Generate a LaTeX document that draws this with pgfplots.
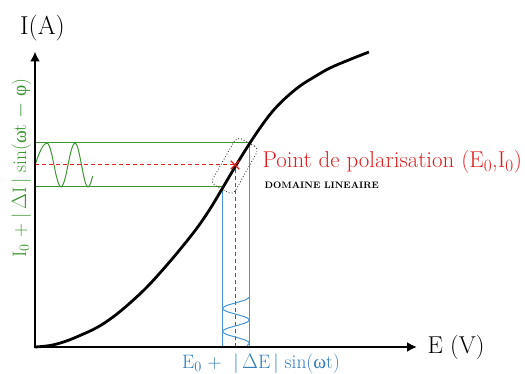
\documentclass[border=0pt]{standalone}
\usepackage{fontspec}
\usepackage{pgfplots}
\pgfplotsset{compat=1.18}
\usetikzlibrary{arrows.meta}
\newfontfamily\grk{Liberation Serif}
\definecolor{cgreen}{RGB}{60,150,50}
\definecolor{cgreentext}{RGB}{60,150,50}
\definecolor{cblue}{RGB}{70,150,210}
\definecolor{cbluetext}{RGB}{50,125,190}
\definecolor{cred}{RGB}{225,30,30}
\begin{document}
\begin{tikzpicture}
\begin{axis}[
  width=525bp, height=374bp, scale only axis,
  xmin=0, xmax=525, ymin=0, ymax=374,
  hide axis, clip=false,
]
% frame (invisible)
\addplot[draw=none] coordinates {(0,0) (525,374)};
% green horizontal lines
\addplot[cgreen, line width=1pt] coordinates {(35,231) (250,231)};
\addplot[cgreen, line width=1pt] coordinates {(35,187) (222,187)};
% blue vertical lines
\addplot[cblue, line width=1pt] coordinates {(222,27) (222,187)};
\addplot[cblue, line width=1pt] coordinates {(249,27) (249,231)};
% red dashed lines
\addplot[cred, dash pattern=on 4pt off 3pt, line width=1pt] coordinates {(35,209) (235,209)};
\addplot[cred, dash pattern=on 4pt off 3pt, line width=1pt] coordinates {(235,27) (235,209)};
% green sine
\addplot[cgreen, line width=1pt, smooth] coordinates {
(35,209) (39,220) (43,228) (47,231) (49.3,228) (51.7,220) (54,209) (56.3,198)
(58.7,190) (61,187) (63.3,190) (65.7,198) (68,209) (70.3,220) (72.7,228) (75,231)
(77.2,228) (79.3,220) (81.5,209) (83.7,198) (85.8,190) (88,187) (90.3,190) (92.7,198)};
% blue sine
\addplot[cblue, line width=1pt, smooth] coordinates {
(249.5,77) (245.5,74.1) (236,71.25) (226.5,68.4) (222.5,65.5) (226.5,62.6) (236,59.75)
(245.5,56.9) (249.5,54) (245.5,51.1) (236,48.25) (226.5,45.4) (222.5,42.5) (226.5,39.6)
(236,36.75) (245.5,33.9) (249.5,31) (247,28.5)};
% dotted box
\addplot[black!75, dotted, line width=0.9pt, rounded corners=5pt] coordinates {
(259,225.5) (237,237.5) (210.5,191) (233,179)} -- cycle;
% curve
\addplot[black, line width=2.8pt, smooth, tension=0.6] coordinates {
(35,27) (50,28.5) (65,32.5) (80,38.5) (97,46.5) (113,57) (130,71) (147,87)
(163,104.5) (180,124.5) (197,146) (210,165) (222,185) (235,207) (248,228)
(260,246) (272,262) (285,275.5) (300,288) (315,297.5) (330,306) (350,314.5) (369,322)};
% axes
\addplot[black, line width=2.6pt, -{Latex[length=10pt,width=10pt]}] coordinates {(35,25.7) (35,322.5)};
\addplot[black, line width=2.6pt, -{Latex[length=10pt,width=10pt]}] coordinates {(33.7,27) (417,27)};
% point
\addplot[cred, only marks, mark=x, mark size=6pt, line width=1.3pt] coordinates {(235,209)};
% texts
\node[anchor=base, font=\fontsize{26}{30}\selectfont] at (axis cs:42.5,339) {I(A)};
\node[anchor=base west, font=\fontsize{24.5}{28}\selectfont] at (axis cs:424,21) {E (V)};
\node[anchor=base west, text=cred, font=\fontsize{23}{27}\selectfont] at (axis cs:259,206) {Point de polarisation (E$_0$,I$_0$)};
\node[anchor=west, font=\bfseries\fontsize{9.4}{11}\selectfont] at (axis cs:261,188.5) {DOMAINE LINEAIRE};
\node[anchor=base, text=cbluetext, font=\fontsize{19.5}{23}\selectfont] at (axis cs:261,6) {E$_0$ + \ |\,$\Delta$E\,| sin({\grk ω}t)};
\node[anchor=base, rotate=90, text=cgreentext, font=\fontsize{19.5}{23}\selectfont] at (axis cs:26,206) {I$_0$ + |\,$\Delta$I\,| sin({\grk ω}t $-$ {\grk φ})};
\end{axis}
\pgfresetboundingbox
\path (current axis.south west) rectangle (current axis.north east);
\end{tikzpicture}
\end{document}
